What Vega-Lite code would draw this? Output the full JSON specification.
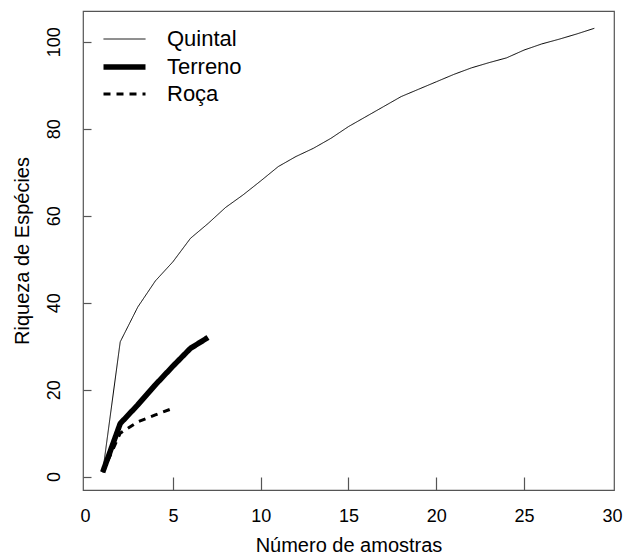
{
  "$schema": "https://vega.github.io/schema/vega-lite/v6.json",
  "width": 531,
  "height": 479,
  "autosize": {"type": "none"},
  "padding": {"left": 83, "top": 11, "right": 19, "bottom": 67},
  "background": "white",
  "config": {
    "font": "Liberation Sans",
    "view": {"stroke": "#555", "strokeWidth": 1.2},
    "axis": {
      "domain": false,
      "grid": false,
      "tickColor": "#555",
      "tickWidth": 1.2,
      "labelColor": "black",
      "titleColor": "black",
      "labelFontSize": 18,
      "titleFontSize": 20,
      "titleFontWeight": "normal",
      "labelFlush": false,
      "labelOverlap": false,
      "labelBound": false
    }
  },
  "data": {
    "values": [
      {"amostra": 1, "riqueza": 1, "area": "Quintal"},
      {"amostra": 2, "riqueza": 31, "area": "Quintal"},
      {"amostra": 3, "riqueza": 39, "area": "Quintal"},
      {"amostra": 4, "riqueza": 45, "area": "Quintal"},
      {"amostra": 5, "riqueza": 49.4, "area": "Quintal"},
      {"amostra": 6, "riqueza": 54.8, "area": "Quintal"},
      {"amostra": 7, "riqueza": 58.2, "area": "Quintal"},
      {"amostra": 8, "riqueza": 61.9, "area": "Quintal"},
      {"amostra": 9, "riqueza": 64.8, "area": "Quintal"},
      {"amostra": 10, "riqueza": 68, "area": "Quintal"},
      {"amostra": 11, "riqueza": 71.3, "area": "Quintal"},
      {"amostra": 12, "riqueza": 73.6, "area": "Quintal"},
      {"amostra": 13, "riqueza": 75.5, "area": "Quintal"},
      {"amostra": 14, "riqueza": 77.8, "area": "Quintal"},
      {"amostra": 15, "riqueza": 80.5, "area": "Quintal"},
      {"amostra": 16, "riqueza": 82.8, "area": "Quintal"},
      {"amostra": 17, "riqueza": 85.1, "area": "Quintal"},
      {"amostra": 18, "riqueza": 87.4, "area": "Quintal"},
      {"amostra": 19, "riqueza": 89.1, "area": "Quintal"},
      {"amostra": 20, "riqueza": 90.8, "area": "Quintal"},
      {"amostra": 21, "riqueza": 92.5, "area": "Quintal"},
      {"amostra": 22, "riqueza": 94, "area": "Quintal"},
      {"amostra": 23, "riqueza": 95.2, "area": "Quintal"},
      {"amostra": 24, "riqueza": 96.3, "area": "Quintal"},
      {"amostra": 25, "riqueza": 98.1, "area": "Quintal"},
      {"amostra": 26, "riqueza": 99.5, "area": "Quintal"},
      {"amostra": 27, "riqueza": 100.6, "area": "Quintal"},
      {"amostra": 28, "riqueza": 101.8, "area": "Quintal"},
      {"amostra": 29, "riqueza": 103.1, "area": "Quintal"},
      {"amostra": 1, "riqueza": 1, "area": "Terreno"},
      {"amostra": 2, "riqueza": 12.2, "area": "Terreno"},
      {"amostra": 3, "riqueza": 16.5, "area": "Terreno"},
      {"amostra": 4, "riqueza": 21.1, "area": "Terreno"},
      {"amostra": 5, "riqueza": 25.4, "area": "Terreno"},
      {"amostra": 6, "riqueza": 29.5, "area": "Terreno"},
      {"amostra": 7, "riqueza": 32, "area": "Terreno"},
      {"amostra": 1, "riqueza": 1, "area": "Roça"},
      {"amostra": 2, "riqueza": 10, "area": "Roça"},
      {"amostra": 3, "riqueza": 12.6, "area": "Roça"},
      {"amostra": 4, "riqueza": 14.2, "area": "Roça"},
      {"amostra": 5, "riqueza": 15.7, "area": "Roça"}
    ]
  },
  "mark": {"type": "line", "color": "black", "strokeCap": "butt", "strokeJoin": "round"},
  "encoding": {
    "x": {
      "field": "amostra",
      "type": "quantitative",
      "scale": {"domain": [-0.12, 30.12], "nice": false, "zero": false},
      "axis": {
        "title": "Número de amostras",
        "values": [0, 5, 10, 15, 20, 25, 30],
        "offset": -13,
        "tickSize": 13,
        "labelPadding": 17,
        "titlePadding": 10,
        "tickOpacity": {"condition": {"test": "datum.value == 0 || datum.value == 30", "value": 0}, "value": 1}
      }
    },
    "y": {
      "field": "riqueza",
      "type": "quantitative",
      "scale": {"domain": [-3.08, 107.08], "nice": false, "zero": false},
      "axis": {
        "title": "Riqueza de Espécies",
        "values": [0, 20, 40, 60, 80, 100],
        "offset": -8,
        "tickSize": 8,
        "labelAngle": -90,
        "labelPadding": 20,
        "titlePadding": 13
      }
    },
    "strokeWidth": {
      "field": "area",
      "type": "nominal",
      "scale": {"type": "ordinal", "domain": ["Quintal", "Terreno", "Roça"], "range": [1, 5.5, 3]},
      "legend": {
        "title": null,
        "orient": "none",
        "legendX": 28,
        "legendY": 17,
        "symbolType": "M-2,0H2",
        "symbolSize": 441,
        "symbolStrokeColor": "black",
        "labelFontSize": 22,
        "labelColor": "black",
        "labelOffset": 29,
        "rowPadding": 3.5
      }
    },
    "strokeDash": {
      "field": "area",
      "type": "nominal",
      "scale": {"domain": ["Quintal", "Terreno", "Roça"], "range": [[1, 0], [1, 0], [7, 6]]}
    }
  }
}
